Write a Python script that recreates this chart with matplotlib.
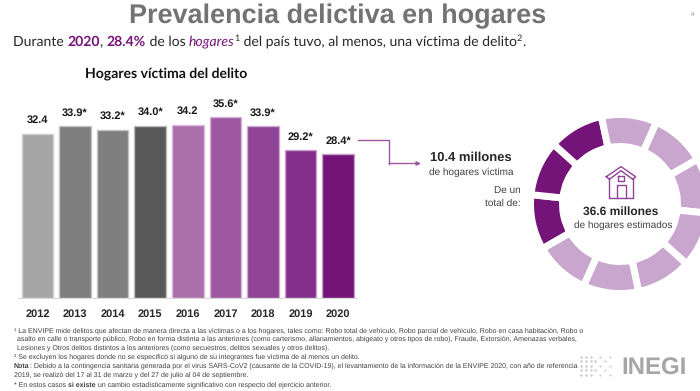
import matplotlib
matplotlib.use('Agg')
import matplotlib.pyplot as plt

plt.rcParams['text.hinting'] = 'no_hinting'
plt.rcParams['text.hinting_factor'] = 1

years = ['2012', '2013', '2014', '2015', '2016', '2017', '2018', '2019', '2020']
values = [32.4, 33.9, 33.2, 34.0, 34.2, 35.6, 33.9, 29.2, 28.4]
value_labels = ['32.4', '33.9*', '33.2*', '34.0*', '34.2', '35.6*', '33.9*', '29.2*', '28.4*']
bar_colors = ['#A6A6A6', '#7F7F7F', '#7F7F7F', '#595959', '#AB70AC',
              '#9E58A1', '#8F4495', '#832F8B', '#751478']
edge_colors = ['#D0D0D0', '#C4C4C4', '#C4C4C4', '#BDBDBD', '#D9BEDA',
              '#D4B4D6', '#CDA9D1', '#C9A3CD', '#C5A0C9']
ring_sizes = [1] * 10
ring_colors = ['#751478'] * 3 + ['#C9A6CE'] * 7

PURPLE = '#751478'
DARK = '#262626'

fig = plt.figure(figsize=(7, 3.91), dpi=100, facecolor='white')
W, H = 700, 391


def box(left, top, right, bottom):
    return [left / W, 1 - bottom / H, (right - left) / W, (bottom - top) / H]


#%% bars
ax = fig.add_axes(box(18, 100, 357, 298))
ax.bar(range(len(values)), values, width=0.84, color=bar_colors,
       edgecolor=edge_colors, linewidth=1)
ax.set_xlim(-0.519, 8.5)
ax.set_ylim(0, 39.05)
for s in ['top', 'left', 'right']:
    ax.spines[s].set_visible(False)
ax.spines['bottom'].set_color('#D9D9D9')
ax.set_yticks([])
ax.set_xticks(range(len(years)))
ax.set_xticklabels(years, family='Liberation Sans', fontweight='bold', fontsize=7.6, color=DARK)
ax.tick_params(axis='x', length=0, pad=8)
for i in range(len(values)):
    ax.annotate(value_labels[i], (i, values[i]), xytext=(0, 9.5), textcoords='offset points',
                ha='center', va='center', family='Liberation Sans', fontweight='bold',
                fontsize=8, color='#1A1A1A')

#%% ring
ring = fig.add_axes(box(530.5, 114.5, 709.5, 293.5))
ring.pie(ring_sizes, colors=ring_colors, startangle=210, counterclock=False, radius=1,
         wedgeprops=dict(width=32 / 89.5, edgecolor='white', linewidth=5))
ring.set_xlim(-1, 1)
ring.set_ylim(-1, 1)

#%% everything else, in pixel coordinates of the slide
pg = fig.add_axes([0, 0, 1, 1], zorder=5)
pg.set_xlim(0, W)
pg.set_ylim(H, 0)
pg.axis('off')
rend = fig.canvas.get_renderer()


def width(s, **kw):
    # bar keeps the trailing spaces counted
    a = pg.text(0, 0, s + '|', **kw)
    b = pg.text(0, 0, '|', **kw)
    w = a.get_window_extent(rend).width - b.get_window_extent(rend).width
    a.remove()
    b.remove()
    return w


def runs(x, y, parts, size, family, color=DARK):
    for s, kw in parts:
        kw = dict(kw)
        dy = kw.pop('dy', 0)
        st = dict(fontsize=size * kw.pop('scale', 1), family=family, color=color, va='baseline')
        st.update(kw)
        pg.text(x, y + dy, s, **st)
        x += width(s, **st)


def fitted(x, right, y, text, size):
    # footnote line that has to end at the right margin
    st = dict(fontsize=size, family='Liberation Sans', color='#404040', va='baseline')
    st['fontsize'] = size * (right - x) / width(text, **st)
    pg.text(x, y, text, **st)


pg.text(338, 23, 'Prevalencia delictiva en hogares', ha='center', va='baseline',
        family='Liberation Sans', fontweight='bold', fontsize=19.3, color='#737373')
pg.text(693, 14.5, '4', ha='center', va='center', family='Liberation Sans', fontsize=4.5, color='#8C8C8C')

runs(13, 46, [('Durante ', {}),
              ('2020', dict(color=PURPLE, fontweight='bold')),
              (', ', {}),
              ('28.4%', dict(color=PURPLE, fontweight='bold')),
              (' de los ', {}),
              ('hogares', dict(color=PURPLE, style='italic', dy=-1)),
              ('1', dict(scale=0.62, dy=-5)),
              (' del país tuvo, al menos, una víctima de delito', {}),
              ('2', dict(scale=0.62, dy=-5)),
              ('.', {})], 10, 'Lato')

pg.text(166.5, 74, 'Hogares víctima del delito', ha='center', va='center', family='Lato',
        fontweight='bold', fontsize=10.2, color='#111111')

# connector to the 10.4 millones text
pg.plot([358, 389, 389], [140, 140, 163.5], color='#9E58A1', lw=1)
pg.annotate('', xy=(421, 163.5), xytext=(389, 163.5),
            arrowprops=dict(arrowstyle='-|>', color='#9E58A1', lw=1, mutation_scale=6,
                            shrinkA=0, shrinkB=0))

pg.text(430, 158, '10.4 millones', va='center', family='Liberation Sans', fontweight='bold',
        fontsize=9.6, color=DARK)
pg.text(429, 172, 'de hogares víctima', va='center', family='Liberation Sans', fontsize=7.4, color='#404040')
pg.text(521, 190, 'De un', ha='right', va='center', family='Liberation Sans', fontsize=7.4, color='#404040')
pg.text(521, 203, 'total de:', ha='right', va='center', family='Liberation Sans', fontsize=7.4, color='#404040')
pg.text(620.5, 211.5, '36.6 millones', ha='center', va='center', family='Liberation Sans',
        fontweight='bold', fontsize=8.6, color=DARK)
pg.text(623.5, 225, 'de hogares estimados', ha='center', va='center', family='Liberation Sans',
        fontsize=7.4, color='#404040')

# house icon
hx = lambda v: [350 + a / 3 for a in v]
hy = lambda v: [120 + a / 3 for a in v]
pg.plot(hx([769, 813, 857, 848, 813, 778, 769]), hy([170, 140, 170, 178, 152, 178, 170]),
        color='#8F4495', lw=1)
pg.plot(hx([777, 777, 849, 849]), hy([175, 235, 235, 175]), color='#8F4495', lw=1)
pg.plot(hx([800, 800, 827, 827]), hy([235, 196, 196, 235]), color='#8F4495', lw=1)
pg.plot(hx([805, 821, 821, 805, 805]), hy([168, 168, 183, 183, 168]), color='#8F4495', lw=1)

# footnotes
FS = 4.87
fitted(14, 572, 333, '¹ La ENVIPE mide delitos que afectan de manera directa a las víctimas o a los hogares, '
       'tales como: Robo total de vehículo, Robo parcial de vehículo, Robo en casa habitación, Robo o', FS)
fitted(17, 570, 341, 'asalto en calle o transporte público, Robo en forma distinta a las anteriores (como carterismo, '
       'allanamientos, abigeato y otros tipos de robo), Fraude, Extorsión, Amenazas verbales,', FS)
pg.text(17, 349.5, 'Lesiones y Otros delitos distintos a los anteriores (como secuestros, delitos sexuales y otros delitos).',
        family='Liberation Sans', fontsize=FS, color='#404040')
pg.text(14, 358.5, '² Se excluyen los hogares donde no se especificó si alguno de su integrantes fue víctima de al menos un delito.',
        family='Liberation Sans', fontsize=FS, color='#404040')
nota = 'Nota'
nota_rest = (': Debido a la contingencia sanitaria generada por el virus SARS-CoV2 (causante de la COVID-19), '
             'el levantamiento de la información de la ENVIPE 2020, con año de referencia')
nota_w = width(nota, fontsize=FS, family='Liberation Sans', fontweight='bold')
pg.text(14, 368, nota, family='Liberation Sans', fontsize=FS, fontweight='bold', color='#404040')
fitted(14 + nota_w, 572, 368, nota_rest, FS)
pg.text(14, 377, '2019, se realizó del 17 al 31 de marzo y del 27 de julio al 04 de septiembre.',
        family='Liberation Sans', fontsize=FS, color='#404040')
runs(14, 387, [('* En estos casos ', {}), ('si existe', dict(fontweight='bold')),
               (' un cambio estadísticamente significativo con respecto del ejercicio anterior.', {})],
     FS, 'Liberation Sans', color='#404040')

# INEGI logo
for col in range(7):
    for row in range(5):
        if (col + row) % 2 == 0 or col < 3:
            pg.scatter(581 + col * 4.8, 357 + row * 4.4, s=3.5 if col < 4 else 2.5, color='#D0D0D0', lw=0)
pg.text(654, 375, 'INEGI', ha='center', va='baseline', family='Liberation Sans', fontweight='bold',
        fontsize=17.6, color='#A6A6A6')

fig.savefig('out.png', dpi=100)
